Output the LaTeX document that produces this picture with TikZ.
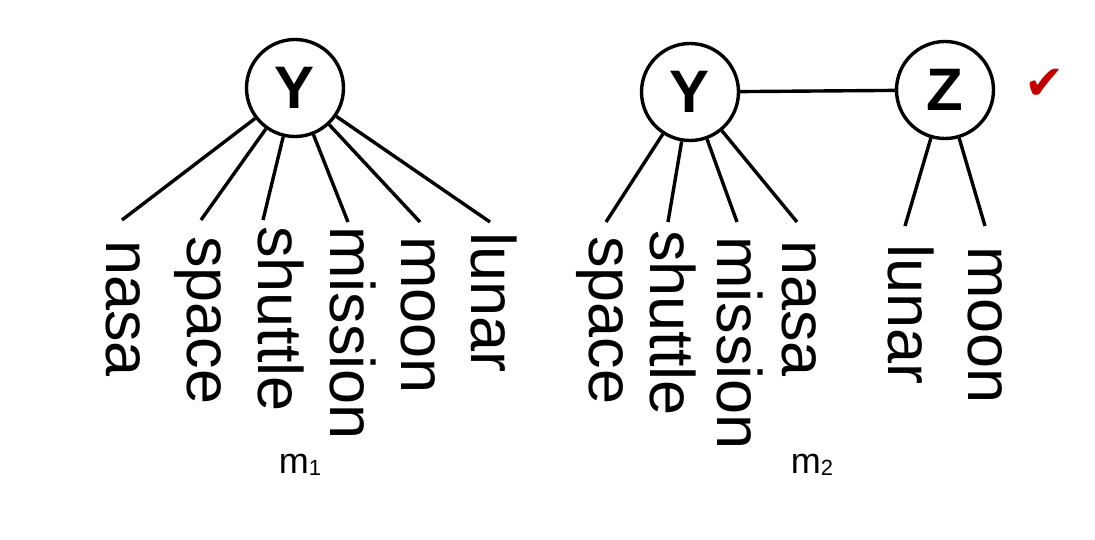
\documentclass[tikz,border=0pt]{standalone}
\usepackage{fontspec}
\setmainfont{Liberation Sans}
\newfontfamily\dejavu{DejaVu Sans}
\begin{document}
\begin{tikzpicture}[x=1pt,y=-1pt,
  topic/.style={draw,circle,line width=3.4pt,minimum size=97pt,inner sep=0pt,font=\fontsize{60}{62}\selectfont\bfseries},
  word/.style={rotate=-90,anchor=base west,inner sep=0pt,font=\fontsize{63}{65}\selectfont},
  edge/.style={line width=3.4pt},
  lab/.style={font=\fontsize{36}{38}\selectfont}]
\useasboundingbox (0,0) rectangle (1095,540);
% left model
\node[topic] (Y1) at (295,88) {Y};
\node[word] (w1) at (106,240) {nasa};
\node[word] (w2) at (187,236) {space};
\node[word] (w3) at (258,226) {shuttle};
\node[word] (w4) at (330,226) {mission};
\node[word] (w5) at (401,236) {moon};
\node[word] (w6) at (471,232) {lunar};
\coordinate (e1) at (122,220);
\coordinate (e2) at (201,220);
\coordinate (e3) at (263,220);
\coordinate (e4) at (348,222);
\coordinate (e5) at (420,222);
\coordinate (e6) at (490,222);
\foreach \i in {1,...,6} \draw[edge] (Y1) -- (e\i);
\node[lab] (m1) at (300,465) {m\raisebox{-2pt}{\fontsize{22}{24}\selectfont 1}};
% right model
\node[topic] (Y2) at (690,92) {Y};
\node[topic] (Z) at (945,90) {Z};
\draw[edge] (Y2) -- (Z);
\node[word] (r1) at (589,236) {space};
\node[word] (r2) at (650,230) {shuttle};
\node[word] (r3) at (717,236) {mission};
\node[word] (r4) at (782,240) {nasa};
\node[word] (r5) at (888,244) {lunar};
\node[word] (r6) at (968,246) {moon};
\coordinate (f1) at (606,222);
\coordinate (f2) at (668,222);
\coordinate (f3) at (737,222);
\coordinate (f4) at (797,222);
\coordinate (f5) at (905,226);
\coordinate (f6) at (985,226);
\foreach \i in {1,...,4} \draw[edge] (Y2) -- (f\i);
\draw[edge] (Z) -- (f5);
\draw[edge] (Z) -- (f6);
\node[lab] (m2) at (812,465) {m\raisebox{-2pt}{\fontsize{22}{24}\selectfont 2}};
\node[text=red!75!black,font=\dejavu\fontsize{48}{48}\selectfont] (ck) at (1045,84) {✔};
\end{tikzpicture}
\end{document}
